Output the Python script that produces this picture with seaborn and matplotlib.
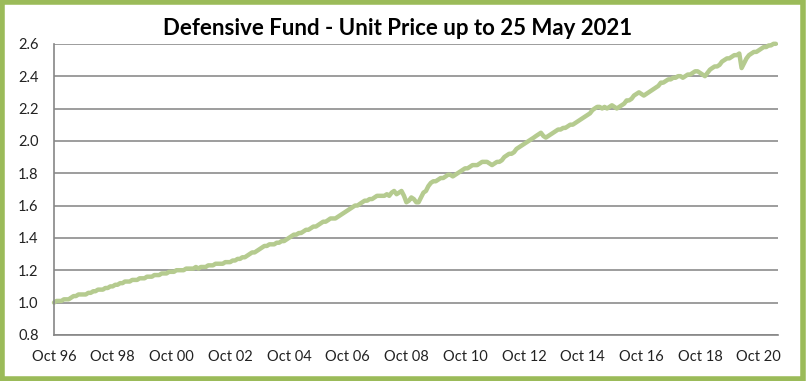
import numpy as np
import pandas as pd
import matplotlib
matplotlib.use("Agg")
import matplotlib.pyplot as plt
import matplotlib.dates as mdates
from matplotlib.patches import Rectangle
import seaborn as sns

# monthly unit prices, Oct 1996 .. May 2021
start_month = "1996-10"
prices_1996 = [1.00, 1.01, 1.01]
prices_1997 = [1.01, 1.02, 1.02, 1.02, 1.03, 1.04, 1.04, 1.05, 1.05, 1.05, 1.05, 1.06]
prices_1998 = [1.06, 1.07, 1.07, 1.08, 1.08, 1.08, 1.09, 1.09, 1.10, 1.10, 1.11, 1.11]
prices_1999 = [1.12, 1.12, 1.13, 1.13, 1.13, 1.14, 1.14, 1.14, 1.15, 1.15, 1.15, 1.16]
prices_2000 = [1.16, 1.16, 1.17, 1.17, 1.17, 1.18, 1.18, 1.18, 1.19, 1.19, 1.19, 1.20]
prices_2001 = [1.20, 1.20, 1.20, 1.21, 1.21, 1.21, 1.21, 1.22, 1.21, 1.22, 1.22, 1.22]
prices_2002 = [1.23, 1.23, 1.23, 1.24, 1.24, 1.24, 1.24, 1.25, 1.25, 1.25, 1.26, 1.26]
prices_2003 = [1.27, 1.27, 1.28, 1.28, 1.29, 1.30, 1.31, 1.31, 1.32, 1.33, 1.34, 1.35]
prices_2004 = [1.35, 1.36, 1.36, 1.36, 1.37, 1.37, 1.38, 1.38, 1.39, 1.40, 1.41, 1.42]
prices_2005 = [1.42, 1.43, 1.43, 1.44, 1.45, 1.45, 1.46, 1.47, 1.47, 1.48, 1.49, 1.50]
prices_2006 = [1.50, 1.51, 1.52, 1.52, 1.52, 1.53, 1.54, 1.55, 1.56, 1.57, 1.58, 1.59]
prices_2007 = [1.60, 1.60, 1.61, 1.62, 1.63, 1.63, 1.64, 1.64, 1.65, 1.66, 1.66, 1.66]
prices_2008 = [1.66, 1.67, 1.66, 1.68, 1.69, 1.67, 1.68, 1.69, 1.66, 1.62, 1.63, 1.65]
prices_2009 = [1.64, 1.62, 1.62, 1.65, 1.68, 1.69, 1.72, 1.74, 1.75, 1.75, 1.76, 1.77]
prices_2010 = [1.77, 1.78, 1.79, 1.79, 1.78, 1.79, 1.80, 1.81, 1.82, 1.83, 1.83, 1.84]
prices_2011 = [1.85, 1.85, 1.85, 1.86, 1.87, 1.87, 1.87, 1.86, 1.85, 1.86, 1.87, 1.87]
prices_2012 = [1.88, 1.90, 1.91, 1.92, 1.92, 1.93, 1.95, 1.96, 1.97, 1.98, 1.99, 2.00]
prices_2013 = [2.01, 2.02, 2.03, 2.04, 2.05, 2.03, 2.02, 2.03, 2.04, 2.05, 2.06, 2.07]
prices_2014 = [2.07, 2.08, 2.08, 2.09, 2.10, 2.10, 2.11, 2.12, 2.13, 2.14, 2.15, 2.16]
prices_2015 = [2.17, 2.19, 2.20, 2.21, 2.21, 2.20, 2.21, 2.20, 2.21, 2.22, 2.21, 2.20]
prices_2016 = [2.21, 2.22, 2.23, 2.25, 2.25, 2.26, 2.28, 2.29, 2.30, 2.29, 2.28, 2.29]
prices_2017 = [2.30, 2.31, 2.32, 2.33, 2.34, 2.36, 2.36, 2.37, 2.38, 2.38, 2.39, 2.39]
prices_2018 = [2.40, 2.40, 2.39, 2.40, 2.41, 2.41, 2.42, 2.43, 2.43, 2.42, 2.41, 2.40]
prices_2019 = [2.42, 2.44, 2.45, 2.46, 2.46, 2.47, 2.49, 2.50, 2.51, 2.51, 2.52, 2.53]
prices_2020 = [2.53, 2.54, 2.45, 2.48, 2.51, 2.53, 2.54, 2.55, 2.55, 2.56, 2.57, 2.58]
prices_2021 = [2.58, 2.59, 2.59, 2.60, 2.60]

title = "Defensive Fund - Unit Price up to 25 May 2021"
yticks = [0.8, 1.0, 1.2, 1.4, 1.6, 1.8, 2.0, 2.2, 2.4, 2.6]
xtick_years = list(range(1996, 2021, 2))

prices = (prices_1996 + prices_1997 + prices_1998 + prices_1999 + prices_2000
          + prices_2001 + prices_2002 + prices_2003 + prices_2004 + prices_2005
          + prices_2006 + prices_2007 + prices_2008 + prices_2009 + prices_2010
          + prices_2011 + prices_2012 + prices_2013 + prices_2014 + prices_2015
          + prices_2016 + prices_2017 + prices_2018 + prices_2019 + prices_2020
          + prices_2021)
df = pd.DataFrame({
    "date": pd.date_range(start_month, periods=len(prices), freq="MS"),
    "price": prices,
})

sns.set_style("white")
plt.rcParams["font.family"] = ["Lato", "DejaVu Sans"]

fig = plt.figure(figsize=(8.06, 3.81), dpi=100)
ax = fig.add_axes([0.067, 0.121, 0.898, 0.764])

sns.lineplot(data=df, x="date", y="price", ax=ax, color="#b5cb8f", linewidth=3.2,
             clip_on=False)

ax.set_xlim(pd.Timestamp("1996-10-01"), pd.Timestamp("2021-05-25"))
ax.set_ylim(0.8, 2.6)
ax.set_yticks(yticks)
ax.set_yticklabels([f"{v:.1f}" for v in yticks])
xt = [pd.Timestamp(f"{y}-10-01") for y in xtick_years]
ax.set_xticks(xt)
ax.set_xticklabels([f"Oct {str(y)[2:]}" for y in xtick_years])

ax.yaxis.grid(True, color="#8c8c8c", linewidth=1.2)
ax.set_axisbelow(True)
for s in ["top", "right"]:
    ax.spines[s].set_visible(False)
for s in ["left", "bottom"]:
    ax.spines[s].set_color("#868686")
    ax.spines[s].set_linewidth(1.2)
ax.tick_params(axis="both", direction="out", length=4, width=1, color="#868686",
               labelsize=10.5, labelcolor="#222222")
ax.tick_params(axis="x", pad=7)
ax.tick_params(axis="y", pad=7)
ax.set_xlabel("")
ax.set_ylabel("")

fig.text(0.493, 0.925, title, ha="center", va="center", fontsize=16,
         fontweight="bold", color="black")

fig.patches.append(Rectangle((0.003, 0.005), 0.993, 0.99, transform=fig.transFigure,
                             fill=False, edgecolor="#9bbb59", linewidth=4))

fig.savefig("out.png", dpi=100)
